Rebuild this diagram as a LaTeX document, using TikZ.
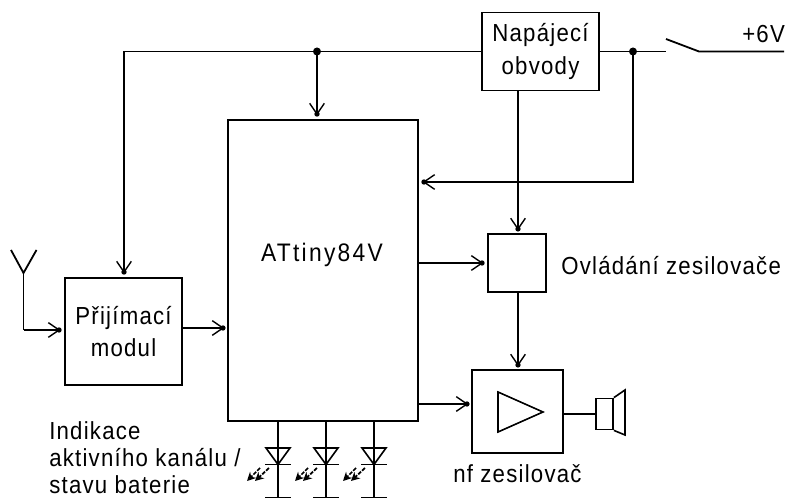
\documentclass[tikz,border=0pt]{standalone}
\usepackage{fontspec}
\usetikzlibrary{arrows.meta}
\newfontfamily\lab[LetterSpace=5,FakeStretch=0.9]{Liberation Sans}
\newfontfamily\labwide[LetterSpace=9,FakeStretch=0.9]{Liberation Sans}
\def\px{0.75pt}
\pgfdeclarearrow{
  name=ChevDot,
  setup code={
    \pgfarrowssettipend{2pt}
    \pgfarrowssetlineend{0pt}
    \pgfarrowssetbackend{-8pt}
    \pgfarrowshullpoint{-8pt}{5.5pt}
    \pgfarrowshullpoint{-8pt}{-5.5pt}
    \pgfarrowshullpoint{2pt}{0pt}
  },
  drawing code={
    \pgfsetlinewidth{1.05pt}
    \pgfsetbuttcap
    \pgfsetmiterjoin
    \pgfpathmoveto{\pgfqpoint{-8pt}{5.5pt}}
    \pgfpathlineto{\pgfqpoint{0pt}{0pt}}
    \pgfpathlineto{\pgfqpoint{-8pt}{-5.5pt}}
    \pgfusepathqstroke
    \pgfpathcircle{\pgfpointorigin}{2pt}
    \pgfusepathqfill
  },
  defaults={}
}
\tikzset{
  wire/.style={line width=1.35pt,black},
  box/.style={draw,line width=1.35pt,inner sep=0pt,align=center,font=\lab\fontsize{18.5pt}{24.5pt}\selectfont},
  txt/.style={inner sep=0pt,align=left,font=\lab\fontsize{18.5pt}{20.5pt}\selectfont},
  inarrow/.style={wire,-{ChevDot},shorten >=1.8pt},
  junction/.style={circle,fill=black,inner sep=0pt,minimum size=6pt},
  ledline/.style={line width=1.3pt,dash pattern=on 3pt off 1pt,-{Stealth[length=6.5pt,width=6.5pt]}},
  thin part/.style={line width=1.2pt,line join=miter}
}
\begin{document}
\begin{tikzpicture}[x=0.75pt,y=-0.75pt]
\useasboundingbox (0,0) rectangle (789,498);
% blocks
\node[box,minimum width=117*\px,minimum height=78*\px] (nap) at (540.5,51.5) {Napájecí\\obvody};
\node[box,minimum width=190*\px,minimum height=301*\px] (mcu) at (323,270.5) {};
\node[txt,font=\labwide\fontsize{19pt}{21pt}\selectfont] (mculabel) at (322,255) {ATtiny84V};
\node[box,minimum width=117*\px,minimum height=107*\px] (rx) at (123.5,331.5) {Přijímací\\modul};
\node[box,minimum width=58*\px,minimum height=58*\px] (ctl) at (517,263) {};
\node[box,minimum width=91*\px,minimum height=83*\px] (amp) at (517.5,411.5) {};
\node[box,minimum width=17*\px,minimum height=31*\px] (spk) at (604.5,414) {};
% labels
\node[txt,anchor=west] (ctllabel) at (561,266) {Ovládání zesilovače};
\node[txt,anchor=west] (amplabel) at (453,474) {nf zesilovač};
\node[txt,anchor=north west] (ledlabel) at (49,421) {Indikace\\aktivního kanálu /\\stavu baterie};
\node[txt,anchor=west] (vlabel) at (742,34) {+6V};
% free points
\coordinate (j1) at (317,51.5);
\coordinate (j2) at (633,51.5);
\coordinate (corner1) at (124,51.5);
\coordinate (corner2) at (633,182);
\coordinate (sw1) at (666,51.5);
\coordinate (sw2) at (666,39);
\coordinate (sw3) at (699,51.5);
\coordinate (vplus) at (784,51.5);
\coordinate (ant) at (23.5,273);
\coordinate (antl) at (11,250);
\coordinate (antr) at (36.5,250);
\coordinate (antb) at (23.5,330);
\coordinate (napout) at (518,90.5);
\coordinate (ctlin) at (518,234);
\coordinate (ctlout) at (518,292);
\coordinate (ampin) at (518,370);
% power wires
\draw[wire] (nap.west) -- (j1) -- (corner1);
\draw[inarrow] (corner1) -- (corner1 |- rx.north);
\draw[inarrow] (j1) -- (j1 |- mcu.north);
\draw[wire] (nap.east) -- (j2) -- (sw1);
\draw[wire] (sw2) -- (sw3) -- (vplus);
\draw[inarrow] (j2) -- (corner2) -- (corner2 -| mcu.east);
\node[junction] (dot1) at (j1) {};
\node[junction] (dot2) at (j2) {};
\draw[inarrow] (napout) -- (ctlin);
% signals
\draw[inarrow] (mcu.east |- ctl.west) -- (ctl.west);
\draw[inarrow] (ctlout) -- (ampin);
\draw[inarrow] (418,404) -- (472,404);
\draw[inarrow] (182,328) -- (228,328);
\draw[wire] (ant) -- (antb);
\draw[inarrow] (antb) -- (rx.west |- antb);
\draw[wire] (antl) -- (ant) -- (antr);
% amplifier symbol
\draw[thin part] (498,392) -- (543,412) -- (498,432) -- cycle;
% speaker
\draw[wire] (amp.east |- spk.west) -- (spk.west);
\draw[thin part] (spk.north east) -- (625,390) -- (625,435) -- (spk.south east);
% LEDs
\foreach \n/\x in {a/278,b/326,c/374}{
  \coordinate (led\n) at (\x,464.5);
  \draw[wire] (\x,421) -- (\x,498);
  \draw[thin part] (\x-12,448) -- (\x+12,448) -- (led\n) -- cycle;
  \draw[wire] (\x-13,464.5) -- (\x+13,464.5);
  \draw[wire] (\x-13,498) -- (\x+13,498);
  \draw[ledline] (\x-9,468) -- (\x-23,481);
  \draw[ledline] (\x-18,468) -- (\x-31,481);
}
\end{tikzpicture}
\end{document}
